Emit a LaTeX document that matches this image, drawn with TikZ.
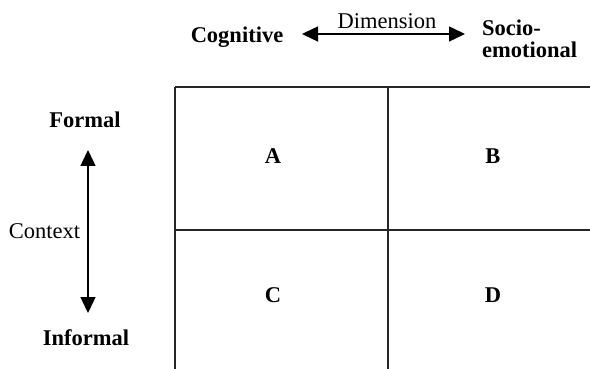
\documentclass[tikz,border=0pt]{standalone}
\usepackage{fontspec}
\setmainfont{Liberation Serif}
\usetikzlibrary{arrows.meta}
\begin{document}
\begin{tikzpicture}[x=1pt,y=-1pt,
  lbl/.style={font=\fontsize{22.5}{22}\selectfont\bfseries, inner sep=0pt, anchor=base},
  plain/.style={font=\fontsize{22.5}{22}\selectfont, inner sep=0pt, anchor=base},
  gridline/.style={draw=black!85, line width=1.4pt},
  dimarrow/.style={line width=1.4pt, {Triangle[length=16pt,width=15pt]}-{Triangle[length=16pt,width=15pt]}}]
\useasboundingbox (0,0) rectangle (590,369);
% grid
\coordinate (tl) at (175,87);
\coordinate (tr) at (590,87);
\coordinate (bl) at (175,369);
\coordinate (tm) at (388,87);
\coordinate (bm) at (388,369);
\coordinate (ml) at (175,230);
\coordinate (mr) at (590,230);
\draw[gridline] (tl) -- (tr);
\draw[gridline] (tl) -- (bl);
\draw[gridline] (tm) -- (bm);
\draw[gridline] (ml) -- (mr);
% cells
\node[lbl] (A) at (273,164) {A};
\node[lbl] (B) at (493,164) {B};
\node[lbl] (C) at (273,302) {C};
\node[lbl] (D) at (493,302) {D};
% dimension
\node[lbl] (cog) at (237,43) {Cognitive};
\node[lbl, anchor=base west] (soc1) at (482,36) {Socio-};
\node[lbl, anchor=base west] (soc2) at (482,58) {emotional};
\node[plain] (dim) at (387,29) {Dimension};
\coordinate (dl) at (302,34);
\coordinate (dr) at (465,34);
\draw[dimarrow] (dl) -- (dr);
% context
\node[lbl] (formal) at (85,128) {Formal};
\node[lbl] (informal) at (86,345) {Informal};
\node[plain] (ctx) at (44.5,238) {Context};
\coordinate (ct) at (88,150);
\coordinate (cb) at (88,313);
\draw[dimarrow] (ct) -- (cb);
\end{tikzpicture}
\end{document}
